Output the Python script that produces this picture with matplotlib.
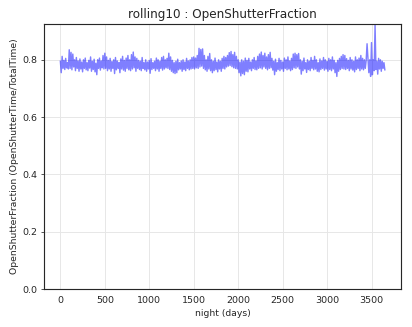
import numpy as np
import matplotlib
matplotlib.use("Agg")
import matplotlib.pyplot as plt

title = "rolling10 : OpenShutterFraction"
xlabel = "night (days)"
ylabel = "OpenShutterFraction (OpenShutterTime/TotalTime)"

# rolling-10 open shutter fraction, sampled every 10 nights (thousandths)
step_days = 10
values_milli = [
    795, 755, 812, 770, 798, 766, 805, 772, 790, 768,
    835, 770, 826, 765, 820, 775, 800, 762, 808, 770,
    796, 760, 803, 768, 792, 758, 800, 770, 806, 765,
    790, 762, 798, 771, 810, 760, 795, 766, 802, 758,
    788, 748, 800, 770, 806, 764, 796, 772, 815, 768,
    823, 770, 810, 762, 798, 768, 805, 760, 794, 770,
    800, 752, 808, 765, 796, 770, 790, 755, 803, 768,
    812, 764, 798, 760, 806, 770, 815, 765, 800, 762,
    818, 768, 827, 772, 810, 760, 805, 770, 798, 766,
    795, 762, 808, 770, 790, 765, 800, 760, 792, 768,
    798, 753, 804, 766, 790, 770, 795, 762, 806, 768,
    800, 760, 795, 770, 808, 764, 812, 768, 800, 772,
    805, 770, 823, 766, 810, 760, 798, 755, 790, 752,
    795, 755, 802, 765, 790, 768, 796, 760, 800, 766,
    792, 762, 805, 770, 796, 765, 800, 768, 808, 770,
    810, 768, 806, 772, 815, 770, 840, 775, 836, 778,
    838, 770, 815, 765, 800, 760, 812, 768, 822, 762,
    800, 755, 795, 762, 806, 766, 792, 758, 800, 768,
    795, 760, 805, 770, 812, 768, 808, 775, 815, 778,
    825, 780, 829, 776, 818, 772, 826, 770, 812, 768,
    800, 755, 792, 744, 800, 752, 795, 748, 806, 760,
    798, 758, 805, 768, 792, 762, 800, 770, 808, 766,
    796, 765, 812, 770, 820, 772, 827, 768, 815, 775,
    823, 770, 810, 765, 818, 770, 826, 772, 805, 764,
    795, 748, 802, 760, 790, 766, 805, 762, 798, 768,
    792, 760, 806, 770, 800, 765, 810, 768, 796, 762,
    805, 766, 820, 772, 823, 770, 818, 775, 822, 768,
    800, 750, 795, 762, 806, 768, 790, 756, 800, 766,
    795, 762, 808, 770, 798, 765, 812, 768, 800, 760,
    790, 758, 803, 766, 796, 770, 808, 764, 800, 768,
    795, 760, 805, 766, 800, 762, 810, 768, 798, 755,
    790, 742, 798, 760, 805, 766, 812, 770, 818, 768,
    815, 766, 804, 770, 798, 762, 808, 768, 800, 764,
    795, 758, 810, 766, 800, 770, 806, 762, 815, 768,
    805, 765, 800, 770, 798, 856, 806, 755, 800, 742,
    860, 748, 800, 762, 922, 766, 795, 750, 805, 768,
    800, 760, 795, 770, 790, 765,
]
nights = [i * step_days for i in range(len(values_milli))]
fraction = [v / 1000.0 for v in values_milli]

fig = plt.figure(figsize=(6, 4.765), dpi=412 / 6)
ax = fig.add_axes([0.107, 0.116, 0.867, 0.811])

ax.plot(nights, fraction, color="#0000ff", alpha=0.5, linewidth=1.5)

ax.set_xlim(-183, 3835)
ax.set_ylim(0, 0.926)
ax.set_xticks([0, 500, 1000, 1500, 2000, 2500, 3000, 3500])
ax.set_yticks([0.0, 0.2, 0.4, 0.6, 0.8])

ax.grid(True, color="#e6e6e6", linewidth=1.0)
ax.set_axisbelow(True)
for s in ax.spines.values():
    s.set_color("#262626")
    s.set_linewidth(1.2)
ax.tick_params(axis="x", colors="#262626", labelsize=10, length=0, pad=7)
ax.tick_params(axis="y", colors="#262626", labelsize=10, length=3.5)
ax.set_title(title, fontsize=12.6, color="#262626")
ax.set_xlabel(xlabel, fontsize=9.7, color="#262626")
ax.set_ylabel(ylabel, fontsize=9.7, color="#262626")

fig.savefig("out.png", dpi=412 / 6)
